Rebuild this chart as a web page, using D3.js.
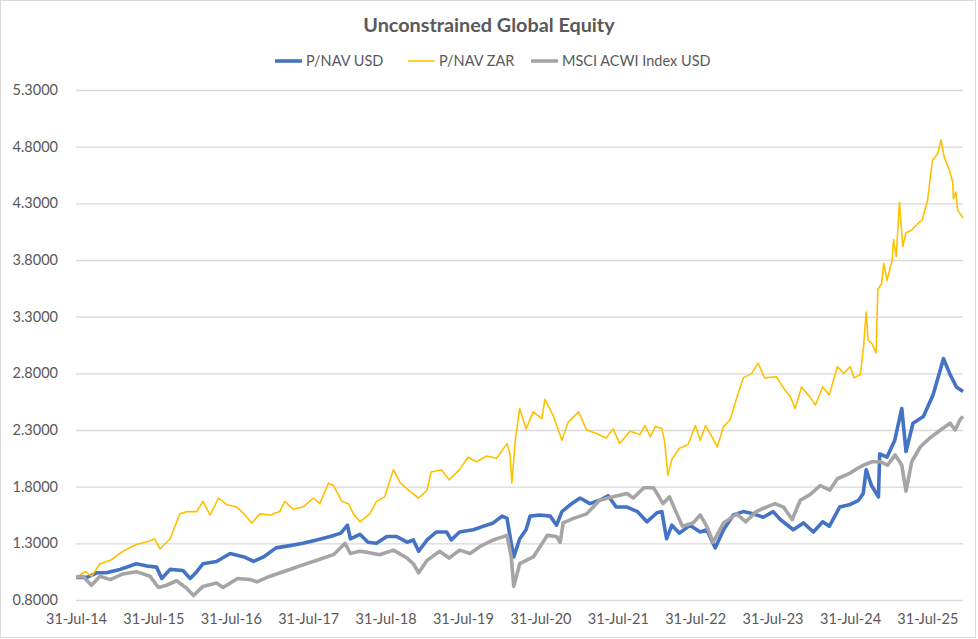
<!DOCTYPE html>
<html>
<head>
<meta charset="utf-8">
<script src="https://cdn.jsdelivr.net/npm/d3@7"></script>
<style>
  body { margin: 0; background: #fff; }
  #chart text { font-family: Lato, "Open Sans", sans-serif; fill: #595959; }
</style>
</head>
<body>
<svg id="chart" width="978" height="639"></svg>
<script>
// values, [date, value]
const usdSeries = [
  ["2014-07-31",1.00],["2014-09-21",1.00],["2014-11-06",1.04],["2014-12-21",1.04],["2015-02-24",1.07],
  ["2015-05-12",1.12],["2015-07-01",1.10],["2015-08-15",1.09],["2015-09-09",0.99],["2015-10-18",1.07],
  ["2015-12-18",1.06],["2016-01-21",0.99],["2016-02-21",1.05],["2016-03-21",1.12],["2016-05-24",1.14],
  ["2016-07-27",1.21],["2016-10-01",1.18],["2016-11-15",1.14],["2017-01-01",1.18],["2017-03-01",1.26],
  ["2017-05-06",1.28],["2017-07-06",1.30],["2017-09-09",1.33],["2017-11-12",1.36],["2018-01-01",1.39],
  ["2018-02-01",1.46],["2018-02-15",1.34],["2018-04-01",1.38],["2018-05-09",1.31],["2018-06-18",1.30],
  ["2018-08-06",1.36],["2018-09-21",1.36],["2018-11-09",1.31],["2018-12-09",1.33],["2019-01-03",1.23],
  ["2019-02-12",1.33],["2019-03-27",1.40],["2019-05-15",1.40],["2019-06-06",1.33],["2019-07-15",1.40],
  ["2019-09-18",1.42],["2019-11-03",1.45],["2019-12-21",1.48],["2020-02-01",1.54],["2020-02-24",1.52],
  ["2020-03-15",1.30],["2020-03-27",1.18],["2020-04-24",1.34],["2020-05-24",1.42],["2020-06-12",1.54],
  ["2020-07-27",1.55],["2020-09-15",1.54],["2020-10-15",1.46],["2020-11-09",1.58],["2020-12-18",1.64],
  ["2021-02-03",1.70],["2021-03-21",1.65],["2021-05-06",1.68],["2021-06-15",1.72],["2021-07-24",1.62],
  ["2021-09-12",1.62],["2021-11-01",1.58],["2021-12-15",1.49],["2022-02-01",1.57],["2022-02-24",1.58],
  ["2022-03-18",1.34],["2022-04-12",1.46],["2022-05-18",1.39],["2022-07-06",1.46],["2022-08-24",1.40],
  ["2022-09-24",1.42],["2022-11-03",1.26],["2022-12-12",1.42],["2023-01-27",1.55],["2023-03-15",1.58],
  ["2023-05-01",1.56],["2023-06-18",1.53],["2023-08-03",1.58],["2023-09-06",1.51],["2023-11-06",1.42],
  ["2023-12-24",1.48],["2024-02-09",1.40],["2024-03-24",1.49],["2024-04-24",1.45],["2024-06-12",1.62],
  ["2024-07-27",1.64],["2024-09-09",1.68],["2024-10-01",1.74],["2024-10-15",1.95],["2024-11-09",1.81],
  ["2024-12-12",1.71],["2024-12-18",2.09],["2025-01-21",2.06],["2025-02-27",2.21],["2025-04-01",2.49],
  ["2025-04-21",2.11],["2025-05-24",2.36],["2025-07-12",2.42],["2025-08-27",2.61],["2025-10-15",2.93],
  ["2025-11-15",2.79],["2025-12-15",2.68],["2026-01-15",2.64]
];

const zarSeries = [
  ["2014-07-31",1.00],["2014-09-12",1.05],["2014-10-12",1.01],["2014-11-21",1.12],["2015-01-09",1.15],
  ["2015-03-09",1.23],["2015-05-12",1.29],["2015-07-15",1.32],["2015-08-06",1.34],["2015-09-01",1.25],
  ["2015-10-18",1.34],["2015-12-03",1.56],["2016-01-06",1.58],["2016-02-21",1.58],["2016-03-21",1.67],
  ["2016-04-24",1.55],["2016-06-03",1.70],["2016-07-12",1.64],["2016-08-27",1.62],["2016-10-01",1.56],
  ["2016-11-06",1.48],["2016-12-15",1.56],["2017-02-03",1.55],["2017-03-18",1.58],["2017-04-12",1.67],
  ["2017-05-21",1.60],["2017-07-06",1.62],["2017-08-24",1.70],["2017-09-24",1.65],["2017-11-03",1.83],
  ["2017-11-27",1.81],["2018-01-06",1.67],["2018-02-06",1.65],["2018-03-01",1.56],["2018-04-01",1.49],
  ["2018-05-18",1.56],["2018-06-18",1.67],["2018-07-27",1.71],["2018-09-06",1.95],["2018-10-06",1.84],
  ["2018-11-15",1.77],["2019-01-03",1.70],["2019-02-12",1.77],["2019-03-03",1.93],["2019-04-21",1.95],
  ["2019-05-27",1.86],["2019-07-15",1.95],["2019-08-24",2.06],["2019-10-03",2.02],["2019-11-21",2.07],
  ["2020-01-06",2.05],["2020-02-24",2.18],["2020-03-09",2.09],["2020-03-18",1.83],["2020-04-03",2.21],
  ["2020-04-24",2.49],["2020-05-24",2.31],["2020-06-27",2.46],["2020-08-06",2.40],["2020-08-21",2.57],
  ["2020-10-01",2.42],["2020-11-09",2.21],["2020-12-09",2.37],["2021-01-27",2.46],["2021-03-06",2.30],
  ["2021-04-21",2.27],["2021-06-06",2.23],["2021-07-09",2.31],["2021-08-09",2.18],["2021-09-27",2.29],
  ["2021-11-12",2.26],["2021-12-06",2.34],["2022-01-01",2.24],["2022-01-24",2.33],["2022-02-24",2.31],
  ["2022-03-09",2.20],["2022-03-24",1.90],["2022-04-12",2.04],["2022-05-18",2.14],["2022-06-27",2.17],
  ["2022-08-01",2.34],["2022-08-24",2.21],["2022-09-18",2.34],["2022-10-18",2.24],["2022-11-12",2.15],
  ["2022-12-12",2.33],["2023-01-12",2.39],["2023-02-12",2.58],["2023-03-15",2.76],["2023-04-24",2.80],
  ["2023-05-24",2.89],["2023-06-24",2.76],["2023-08-18",2.77],["2023-09-21",2.67],["2023-10-21",2.60],
  ["2023-11-15",2.49],["2023-12-15",2.68],["2024-01-24",2.59],["2024-02-18",2.52],["2024-03-24",2.68],
  ["2024-04-24",2.61],["2024-06-01",2.86],["2024-07-01",2.80],["2024-08-01",2.86],["2024-08-18",2.76],
  ["2024-09-18",2.79],["2024-10-03",3.04],["2024-10-15",3.34],["2024-10-24",3.09],["2024-11-12",3.06],
  ["2024-12-01",2.98],["2024-12-09",3.54],["2024-12-27",3.59],["2025-01-06",3.77],["2025-01-21",3.62],
  ["2025-02-15",3.80],["2025-02-21",3.98],["2025-03-06",3.83],["2025-03-21",4.31],["2025-04-06",3.92],
  ["2025-04-21",4.04],["2025-05-15",4.06],["2025-06-15",4.12],["2025-07-06",4.15],["2025-08-01",4.33],
  ["2025-08-24",4.68],["2025-09-18",4.74],["2025-10-03",4.86],["2025-10-18",4.71],["2025-11-12",4.59],
  ["2025-11-27",4.49],["2025-12-01",4.34],["2025-12-12",4.40],["2025-12-21",4.24],["2026-01-15",4.17]
];

const msciSeries = [
  ["2014-07-31",1.00],["2014-09-01",1.01],["2014-10-12",0.93],["2014-11-21",1.01],["2015-01-09",0.98],
  ["2015-03-09",1.03],["2015-05-12",1.05],["2015-07-15",1.01],["2015-08-24",0.91],["2015-10-01",0.93],
  ["2015-11-18",0.97],["2016-01-06",0.90],["2016-02-06",0.84],["2016-03-21",0.92],["2016-05-24",0.95],
  ["2016-06-24",0.91],["2016-09-01",0.99],["2016-11-01",0.98],["2016-12-01",0.96],["2017-02-01",1.01],
  ["2017-04-21",1.06],["2017-07-06",1.11],["2017-09-24",1.16],["2017-11-27",1.20],["2018-01-21",1.30],
  ["2018-02-15",1.21],["2018-04-01",1.23],["2018-05-09",1.22],["2018-07-03",1.20],["2018-09-06",1.24],
  ["2018-11-09",1.17],["2018-12-09",1.12],["2019-01-03",1.04],["2019-02-12",1.15],["2019-04-12",1.23],
  ["2019-05-27",1.17],["2019-07-15",1.24],["2019-09-03",1.21],["2019-10-18",1.27],["2019-12-21",1.33],
  ["2020-02-24",1.37],["2020-03-15",1.18],["2020-03-27",0.92],["2020-04-24",1.12],["2020-06-27",1.18],
  ["2020-09-01",1.37],["2020-10-15",1.36],["2020-11-01",1.31],["2020-11-15",1.48],["2021-01-03",1.52],
  ["2021-03-06",1.56],["2021-05-06",1.68],["2021-07-09",1.71],["2021-09-12",1.74],["2021-10-12",1.70],
  ["2021-12-01",1.79],["2022-01-15",1.79],["2022-02-01",1.74],["2022-03-01",1.65],["2022-04-01",1.71],
  ["2022-05-01",1.58],["2022-06-01",1.45],["2022-07-21",1.48],["2022-08-24",1.55],["2022-09-24",1.45],
  ["2022-10-24",1.31],["2022-12-12",1.48],["2023-02-12",1.56],["2023-03-27",1.49],["2023-05-15",1.58],
  ["2023-07-01",1.62],["2023-08-12",1.65],["2023-09-21",1.62],["2023-11-01",1.51],["2023-12-09",1.68],
  ["2024-01-24",1.73],["2024-03-12",1.81],["2024-04-27",1.77],["2024-06-01",1.87],["2024-08-01",1.92],
  ["2024-09-03",1.96],["2024-10-03",1.99],["2024-11-12",2.02],["2024-12-21",2.02],["2025-01-24",1.99],
  ["2025-03-01",2.08],["2025-04-01",1.99],["2025-04-21",1.76],["2025-05-18",2.02],["2025-06-27",2.15],
  ["2025-08-12",2.23],["2025-10-01",2.30],["2025-11-15",2.36],["2025-12-09",2.30],["2026-01-01",2.39],
  ["2026-01-15",2.42]
];

const seriesNames = ["P/NAV USD", "P/NAV ZAR", "MSCI ACWI Index USD"];
const yTicks = [0.8, 1.3, 1.8, 2.3, 2.8, 3.3, 3.8, 4.3, 4.8, 5.3];
const xTickLabels = ["31-Jul-14","31-Jul-15","31-Jul-16","31-Jul-17","31-Jul-18","31-Jul-19",
                     "31-Jul-20","31-Jul-21","31-Jul-22","31-Jul-23","31-Jul-24","31-Jul-25"];
const xDomain = ["2014-07-31", "2026-01-15"];

const parseDate = d3.timeParse("%Y-%m-%d");
const parseLabel = d3.timeParse("%d-%b-%y");
const colors = ["#4472C4", "#FFC000", "#A5A5A5"];
const widths = [3.6, 1.6, 3.6];

const width = 978, height = 639;
const margin = { top: 90, right: 15, bottom: 39, left: 76 };

const svg = d3.select("#chart");

// chart frame
svg.append("rect")
    .attr("x", 0.5).attr("y", 0.5)
    .attr("width", width - 3).attr("height", height - 2)
    .attr("fill", "#fff")
    .attr("stroke", "#d9d9d9");

const x = d3.scaleTime()
    .domain(xDomain.map(parseDate))
    .range([margin.left, width - margin.right]);

const y = d3.scaleLinear()
    .domain([yTicks[0], yTicks[yTicks.length - 1]])
    .range([height - margin.bottom, margin.top]);

// gridlines + y labels
const yAxis = svg.append("g")
    .attr("transform", `translate(${margin.left},0)`)
    .call(d3.axisLeft(y)
        .tickValues(yTicks)
        .tickFormat(d3.format(".4f"))
        .tickSize(-(width - margin.left - margin.right))
        .tickPadding(18));
yAxis.select(".domain").remove();
yAxis.selectAll("line").attr("stroke", "#d9d9d9").attr("stroke-width", 1.3);
yAxis.selectAll("text").style("font-size", "14.5px");

// x labels, no tick marks
const xAxis = svg.append("g")
    .attr("transform", `translate(0,${height - margin.bottom})`)
    .call(d3.axisBottom(x)
        .tickValues(xTickLabels.map(parseLabel))
        .tickFormat(d3.timeFormat("%d-%b-%y"))
        .tickSize(0)
        .tickPadding(14));
xAxis.select(".domain").remove();
xAxis.selectAll("text").style("font-size", "14.5px");

// lines
const line = d3.line()
    .x(d => x(parseDate(d[0])))
    .y(d => y(d[1]));

[usdSeries, zarSeries, msciSeries].forEach((s, i) => {
    svg.append("path")
        .datum(s)
        .attr("fill", "none")
        .attr("stroke", colors[i])
        .attr("stroke-width", widths[i])
        .attr("stroke-linejoin", "round")
        .attr("d", line);
});

// title
svg.append("text")
    .attr("x", 489).attr("y", 32)
    .attr("text-anchor", "middle")
    .style("font-size", "19.8px")
    .style("font-weight", "bold")
    .text("Unconstrained Global Equity");

// legend
const legendX = [275, 408, 531];
const legend = svg.append("g");
seriesNames.forEach((name, i) => {
    const g = legend.append("g").attr("transform", `translate(${legendX[i]},61)`);
    g.append("line")
        .attr("x1", 0).attr("x2", 27)
        .attr("stroke", colors[i])
        .attr("stroke-width", widths[i]);
    g.append("text")
        .attr("x", 31).attr("y", 5)
        .style("font-size", "14.5px")
        .text(name);
});
</script>
</body>
</html>
